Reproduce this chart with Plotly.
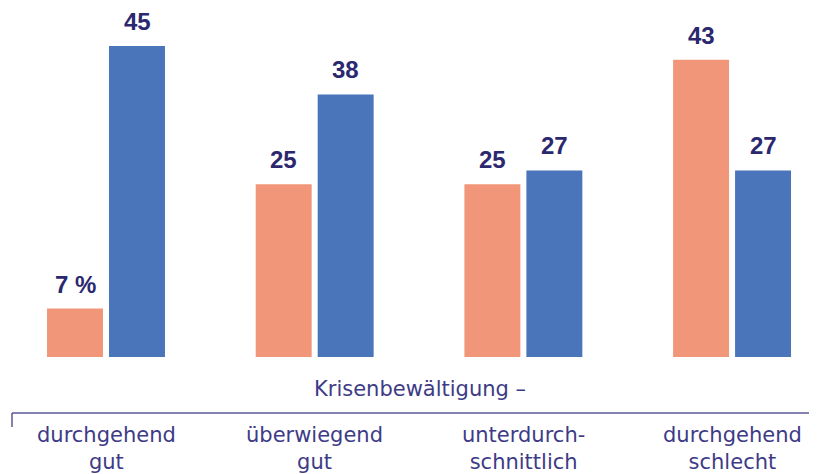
import plotly.graph_objects as go

categories = ["durchgehend<br>gut", "überwiegend<br>gut", "unterdurch-<br>schnittlich", "durchgehend<br>schlecht"]
series_a = [7, 25, 25, 43]
series_b = [45, 38, 27, 27]
axis_title = "Krisenbewältigung –"

x = list(range(len(categories)))
text_a = [f"{v} %" if i == 0 else str(v) for i, v in enumerate(series_a)]
text_b = [str(v) for v in series_b]

W, H = 809, 466  # page body adds an 8px offset
PLOT_H = 349

fig = go.Figure()
fig.add_trace(go.Bar(x=x, y=series_a, marker_color="#F29679", marker_line_width=0))
fig.add_trace(go.Bar(x=x, y=series_b, marker_color="#4A75BA", marker_line_width=0))

fig.update_layout(
    width=W, height=H,
    margin=dict(l=0, r=0, t=0, b=H - PLOT_H),
    paper_bgcolor="white", plot_bgcolor="white",
    barmode="group", bargap=0.406, bargroupgap=0.097,
    showlegend=False,
    xaxis=dict(range=[-0.4696, 3.407], showticklabels=False, showgrid=False,
               zeroline=False, showline=False, ticks=""),
    yaxis=dict(range=[0, 50.5], visible=False),
)

label_font = dict(family="Liberation Sans, Arial", size=24, color="#2b2870", weight="bold")
for i in x:
    fig.add_annotation(x=i, y=series_a[i], xref="x", yref="y", text=text_a[i], showarrow=False,
                       xshift=-31, yshift=9, yanchor="bottom", font=label_font)
    fig.add_annotation(x=i, y=series_b[i], xref="x", yref="y", text=text_b[i], showarrow=False,
                       xshift=31, yshift=9, yanchor="bottom", font=label_font)

def py(page_y):
    return (PLOT_H - (page_y - 8)) / PLOT_H

def px(page_x):
    return (page_x - 8) / W

txt_color = "#3e3b86"
fig.add_annotation(x=px(420), y=py(389), xref="paper", yref="paper", text=axis_title,
                   showarrow=False, font=dict(family="DejaVu Sans", size=21, color=txt_color),
                   xanchor="center", yanchor="middle")
for i, c in enumerate(categories):
    fig.add_annotation(x=i, y=py(449), xref="x", yref="paper", text=c, showarrow=False,
                       font=dict(family="DejaVu Sans", size=21, color=txt_color),
                       xanchor="center", yanchor="middle")

fig.add_shape(type="line", xref="paper", yref="paper", x0=px(12), x1=1.0, y0=py(413), y1=py(413),
              line=dict(color="#5a5698", width=1.5))
fig.add_shape(type="line", xref="paper", yref="paper", x0=px(12), x1=px(12), y0=py(413), y1=py(427),
              line=dict(color="#5a5698", width=1.5))

fig.write_html("out.html")
